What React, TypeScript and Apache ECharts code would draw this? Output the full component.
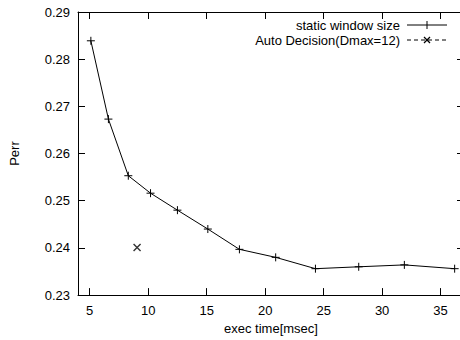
import React, { useEffect, useRef } from "react";
import * as echarts from "echarts";

const staticX = [5.1, 6.6, 8.3, 10.2, 12.5, 15.1, 17.8, 20.9, 24.3, 28.0, 31.9, 36.2];
const staticY = [0.2839, 0.2673, 0.2553, 0.2516, 0.248, 0.244, 0.2397, 0.238, 0.2356, 0.236, 0.2364, 0.2356];
const autoX = [9.05];
const autoY = [0.2401];
const seriesNames = ["static window size", "Auto Decision(Dmax=12)"];
const xTitle = "exec time[msec]";
const yTitle = "Perr";

const FONT = "Liberation Sans";
const PLUS = "path://M0,5L10,5M5,0L5,10";
const CROSS = "path://M0,0L10,10M10,0L0,10";

export default function App() {
  const ref = useRef<HTMLDivElement>(null);
  useEffect(() => {
    if (!ref.current) return;
    const chart = echarts.init(ref.current, null, { renderer: "svg" });
    const axisLine = { show: true, lineStyle: { color: "#000", width: 1 } };
    const tick = { show: true, inside: true, length: 7, lineStyle: { color: "#000", width: 1 } };
    const label = { color: "#000", fontFamily: FONT, fontSize: 13 };
    chart.setOption({
      animation: false,
      grid: { left: 78, top: 12, right: 6, bottom: 44 },
      xAxis: [
        {
          type: "value", min: 4, max: 37, splitNumber: 6, position: "bottom",
          axisLine, axisTick: tick, splitLine: { show: false },
          axisLabel: { ...label, margin: 9, showMinLabel: false, showMaxLabel: false,
            formatter: (v: number) => (v % 5 === 0 ? String(v) : "") },
          name: xTitle, nameLocation: "middle", nameGap: 26,
          nameTextStyle: { color: "#000", fontFamily: FONT, fontSize: 13 },
        },
        {
          type: "value", min: 4, max: 37, splitNumber: 6, position: "top",
          axisLine, axisTick: tick, splitLine: { show: false }, axisLabel: { show: false },
        },
      ],
      yAxis: [
        {
          type: "value", min: 0.23, max: 0.29, interval: 0.01, position: "left",
          axisLine, axisTick: tick, splitLine: { show: false },
          axisLabel: { ...label, margin: 8, formatter: (v: number) => v.toFixed(2) },
          name: yTitle, nameLocation: "middle", nameGap: 57, nameRotate: 90,
          nameTextStyle: { color: "#000", fontFamily: FONT, fontSize: 13 },
        },
        {
          type: "value", min: 0.23, max: 0.29, interval: 0.01, position: "right",
          axisLine, axisTick: tick, splitLine: { show: false }, axisLabel: { show: false },
        },
      ],
      series: [
        {
          name: seriesNames[0], type: "line",
          data: staticX.map((x, i) => [x, staticY[i]]),
          symbol: PLUS, symbolSize: 8, showSymbol: true,
          lineStyle: { color: "#000", width: 1 },
          itemStyle: { color: "#000", borderColor: "#000", borderWidth: 1 },
        },
        {
          name: seriesNames[1], type: "scatter",
          data: autoX.map((x, i) => [x, autoY[i]]),
          symbol: CROSS, symbolSize: 7,
          itemStyle: { color: "#000", borderColor: "#000", borderWidth: 1.4 },
        },
      ],
      graphic: [
        { type: "text", x: 400, y: 25, style: { text: seriesNames[0], fill: "#000", font: `13px "${FONT}"`, align: "right", verticalAlign: "middle" } },
        { type: "text", x: 400, y: 40, style: { text: seriesNames[1], fill: "#000", font: `13px "${FONT}"`, align: "right", verticalAlign: "middle" } },
        { type: "line", shape: { x1: 407, y1: 25, x2: 447, y2: 25 }, style: { stroke: "#000", lineWidth: 1 } },
        { type: "line", shape: { x1: 427, y1: 21, x2: 427, y2: 29 }, style: { stroke: "#000", lineWidth: 1 } },
        { type: "line", shape: { x1: 407, y1: 40, x2: 447, y2: 40 }, style: { stroke: "#000", lineWidth: 1, lineDash: [4, 3] } },
        { type: "line", shape: { x1: 424, y1: 37, x2: 430, y2: 43 }, style: { stroke: "#000", lineWidth: 1.2 } },
        { type: "line", shape: { x1: 430, y1: 37, x2: 424, y2: 43 }, style: { stroke: "#000", lineWidth: 1.2 } },
      ],
    });
    return () => chart.dispose();
  }, []);
  return (
    <div style={{ position: "absolute", left: 0, top: 0, width: 460, height: 340, overflow: "hidden", background: "#fff" }}>
      <div ref={ref} style={{ width: 470, height: 340 }} />
    </div>
  );
}
